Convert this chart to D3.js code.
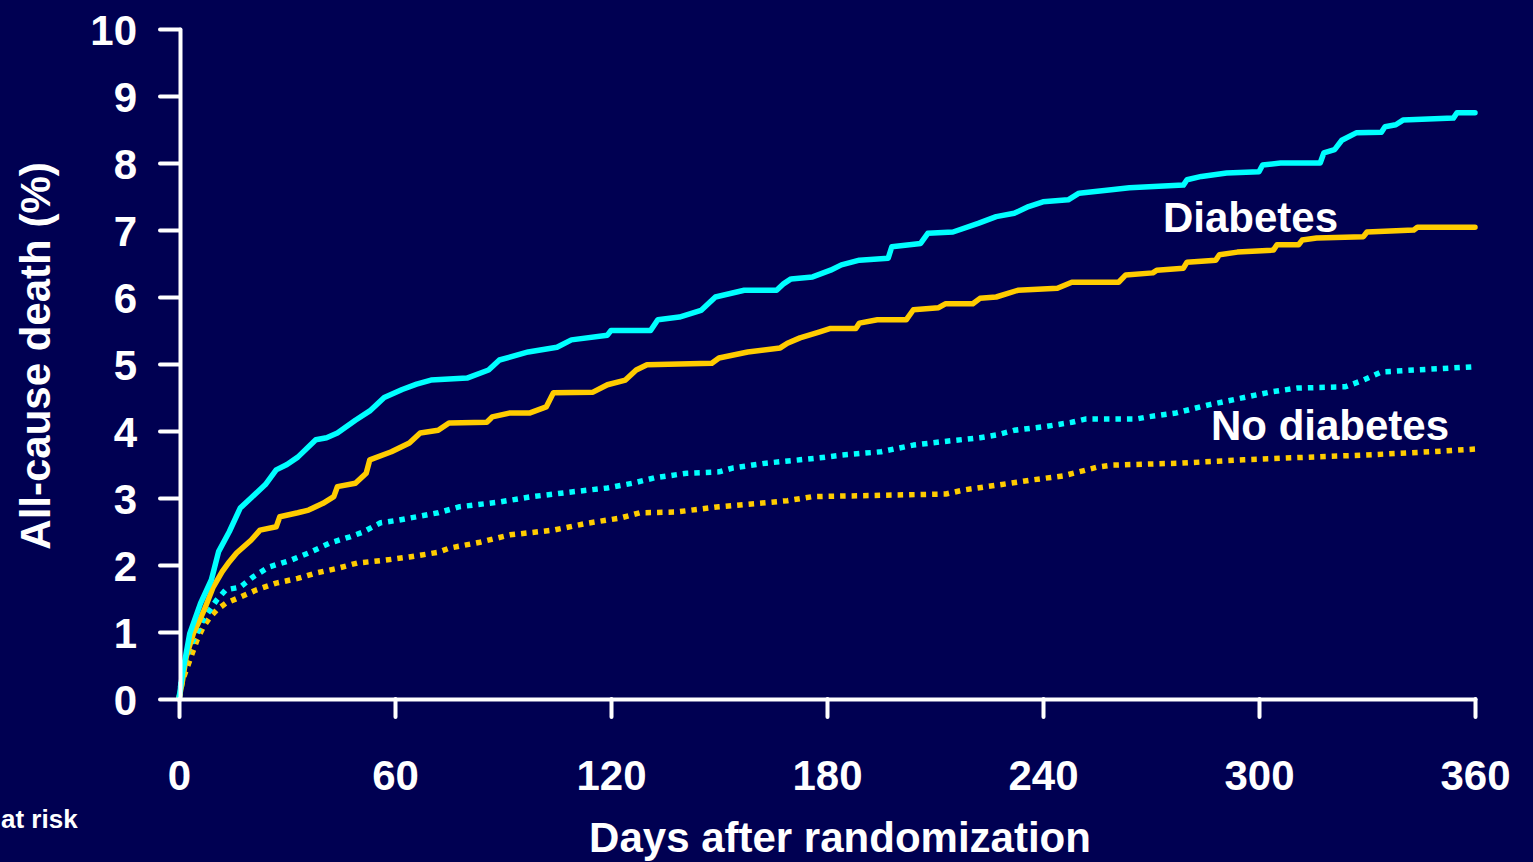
<!DOCTYPE html>
<html><head><meta charset="utf-8">
<script src="https://cdn.jsdelivr.net/npm/d3@7"></script>
<style>
html,body{margin:0;padding:0;background:#000052;overflow:hidden;}
svg{display:block;}
text{font-family:"Liberation Sans",Arial,sans-serif;font-weight:bold;fill:#fff;}
</style></head>
<body>
<svg id="chart" width="1533" height="862"></svg>
<script>
// ---- data ----
const xTicks = [0, 60, 120, 180, 240, 300, 360];
const yTicks = [0, 1, 2, 3, 4, 5, 6, 7, 8, 9, 10];

const diabCyanDays = [0,1,3,6,9,11,14,17,20,24,27,30,33,38,41,44,49,53,57,62,66,70,80,86,89,97,105,109,119,120,131,133,139,145,149,157,166,168,170,176,181,184,189,197,198,206,208,215,222,227,232,236,240,247,250,259,264,279,280,284,291,300,301,306,317,318,321,323,327,334,335,338,340,354,355,360];
const diabCyanVals = [0,0.39,0.98,1.43,1.78,2.2,2.5,2.85,3.0,3.2,3.42,3.5,3.61,3.87,3.9,3.97,4.16,4.3,4.5,4.62,4.7,4.76,4.79,4.91,5.06,5.18,5.25,5.36,5.43,5.5,5.5,5.66,5.7,5.8,6.0,6.1,6.1,6.2,6.27,6.3,6.4,6.48,6.55,6.58,6.75,6.8,6.95,6.97,7.1,7.2,7.25,7.35,7.42,7.45,7.55,7.6,7.63,7.67,7.75,7.8,7.85,7.87,7.97,8.0,8.0,8.15,8.2,8.34,8.45,8.46,8.54,8.57,8.64,8.67,8.75,8.75];

const diabGoldDays = [0,1,2,4,5.5,7,9.5,12,14,16,20,22.5,27,28,33,36,40,43,44,49,52,53,59,64,67,72,75,85.5,87,92,97.5,102,104,115,119,124,127,130,148,150,158,167,169,172.5,178,181,188,189,194,202,204,211,213,220.5,222.5,227,233,244,248,261,263,270.5,271.6,279,280,288,289,294,304,305,311,312,316,329,330,343,344,360];
const diabGoldVals = [0,0.28,0.63,0.98,1.15,1.33,1.67,1.9,2.05,2.18,2.37,2.52,2.57,2.72,2.78,2.82,2.92,3.02,3.17,3.22,3.37,3.57,3.69,3.82,3.97,4.01,4.12,4.13,4.21,4.27,4.27,4.36,4.57,4.58,4.69,4.76,4.91,4.99,5.01,5.09,5.18,5.24,5.31,5.39,5.48,5.53,5.53,5.61,5.66,5.66,5.81,5.84,5.9,5.9,5.98,6.0,6.1,6.13,6.22,6.22,6.33,6.36,6.4,6.43,6.52,6.55,6.63,6.67,6.7,6.78,6.78,6.85,6.88,6.9,6.97,7.0,7.04,7.04];

const noDiabCyanDays = [0,1,3,5,6.7,8.6,10.5,13,17,20.5,25,31,36,42,47.5,51,56,61,66,72,78,89,98,109,119,126,132,141,150,154,163,172.5,178,184,195,204,212,222.5,227,232,241,248,252,266,269,277,286,295,303,310.5,324,329,334,343,360];
const noDiabCyanVals = [0,0.43,0.78,0.98,1.18,1.33,1.48,1.63,1.67,1.82,1.97,2.07,2.18,2.33,2.42,2.49,2.63,2.67,2.72,2.78,2.87,2.94,3.02,3.09,3.15,3.22,3.3,3.37,3.39,3.45,3.52,3.57,3.6,3.64,3.69,3.79,3.84,3.9,3.94,4.01,4.07,4.13,4.18,4.18,4.21,4.27,4.39,4.49,4.58,4.64,4.66,4.76,4.88,4.91,4.96];

const noDiabGoldDays = [0,1,3,5,6.7,8.6,10.5,13,17,21.6,27,33,38,44,49.5,57,64,72,75,83.6,92,104,113,122.5,128,138,150,163,169,176,195,213,218,227,237,245.6,250,255,259,278,295.6,314,329,347.5,360];
const noDiabGoldVals = [0,0.28,0.58,0.88,1.07,1.22,1.33,1.43,1.52,1.63,1.73,1.8,1.88,1.95,2.03,2.07,2.12,2.19,2.25,2.34,2.45,2.52,2.62,2.7,2.78,2.79,2.87,2.93,2.96,3.02,3.04,3.06,3.12,3.19,3.27,3.33,3.39,3.46,3.49,3.52,3.57,3.61,3.64,3.69,3.73];

const series = [
  {days: noDiabGoldDays, vals: noDiabGoldVals, color: "#FFCC00", dashed: true},
  {days: noDiabCyanDays, vals: noDiabCyanVals, color: "#00FFFF", dashed: true},
  {days: diabGoldDays, vals: diabGoldVals, color: "#FFCC00", dashed: false},
  {days: diabCyanDays, vals: diabCyanVals, color: "#00FFFF", dashed: false}
];

// ---- chart ----
const svg = d3.select("#chart");
svg.append("rect").attr("width",1533).attr("height",862).attr("fill","#000052");

const x = d3.scaleLinear().domain([0,360]).range([179,1475]);
const y = d3.scaleLinear().domain([0,10]).range([699,29]);

const line = d3.line().curve(d3.curveLinear)
  .x(d => x(d[0])).y(d => y(d[1]));

series.forEach(s => {
  const pts = s.days.map((d,i) => [d, s.vals[i]]);
  svg.append("path").datum(pts)
    .attr("d", line)
    .attr("fill","none")
    .attr("stroke", s.color)
    .attr("stroke-width", s.dashed ? 5.5 : 5.5)
    .attr("stroke-linejoin","round")
    .attr("stroke-linecap", s.dashed ? "butt" : "round")
    .attr("stroke-dasharray", s.dashed ? "5.5,6" : null);
});

// axes
const yAxis = d3.axisLeft(y).tickValues(yTicks).tickSize(20).tickSizeOuter(0).tickPadding(23).tickFormat(d3.format("d"));
const gy = svg.append("g").attr("transform","translate(180,0)").call(yAxis);
const xAxis = d3.axisBottom(x).tickValues(xTicks).tickSize(18).tickSizeOuter(0).tickFormat(d3.format("d"));
const gx = svg.append("g").attr("transform","translate(0,699)").call(xAxis);

[gy, gx].forEach(g => {
  g.select(".domain").attr("stroke","#fff").attr("stroke-width",4).attr("stroke-linecap","round");
  g.selectAll(".tick line").attr("stroke","#fff").attr("stroke-width",4).attr("stroke-linecap","round");
  g.selectAll(".tick text").attr("fill","#fff").style("font-size","42px")
    .style("font-family","'Liberation Sans', Arial, sans-serif").style("font-weight","bold");
});
gy.selectAll(".tick text").attr("dy","0.36em");
gx.selectAll(".tick text").attr("y", 91).attr("dy", 0);

// titles & labels
svg.append("text")
  .attr("transform","translate(50,356) rotate(-90)")
  .attr("text-anchor","middle").style("font-size","42px")
  .text("All-cause death (%)");

svg.append("text").attr("x",840).attr("y",852)
  .attr("text-anchor","middle").style("font-size","42px")
  .text("Days after randomization");

svg.append("text").attr("x",1163).attr("y",232)
  .style("font-size","42px").text("Diabetes");

svg.append("text").attr("x",1211).attr("y",440)
  .style("font-size","42px").text("No diabetes");

svg.append("text").attr("x",1).attr("y",828)
  .style("font-size","26px").text("at risk");
</script>
</body></html>
